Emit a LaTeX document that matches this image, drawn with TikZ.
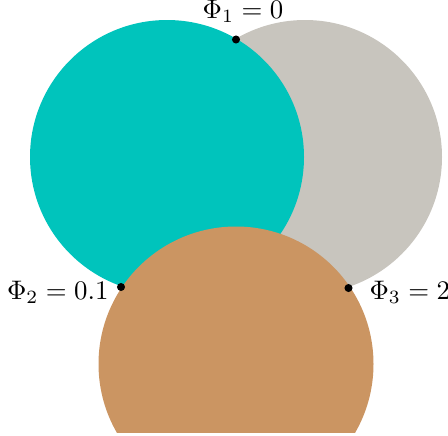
\documentclass[tikz,border=0pt]{standalone}
\usepackage{tikz}
\definecolor{cteal}{HTML}{00C4BC}
\definecolor{cgray}{HTML}{C8C5BE}
\definecolor{cbrown}{HTML}{CB9562}
\begin{document}
\begin{tikzpicture}[x=0.373pt,y=-0.373pt,
  dotnode/.style={circle,fill=black,inner sep=0pt,minimum size=3pt},
  lbl/.style={inner sep=0pt}]
\useasboundingbox (0,0) rectangle (448,435);
\fill[cgray] (305,157) circle[radius=137];
\fill[cteal] (167,157) circle[radius=137];
\begin{scope}
\clip (0,0) rectangle (448,432);
\fill[cbrown] (236,364) circle[radius=137.5];
\end{scope}
\node[dotnode] (p1) at (236,39.5) {};
\node[dotnode] (p2) at (121,287) {};
\node[dotnode] (p3) at (348.5,288) {};
\node[lbl,anchor=base] (l1) at (243,18) {$\Phi_1 = 0$};
\node[lbl,anchor=base east] (l2) at (109,299) {$\Phi_2 = 0.1$};
\node[lbl,anchor=base west] (l3) at (369,299) {$\Phi_3 = 2$};
\end{tikzpicture}
\end{document}
